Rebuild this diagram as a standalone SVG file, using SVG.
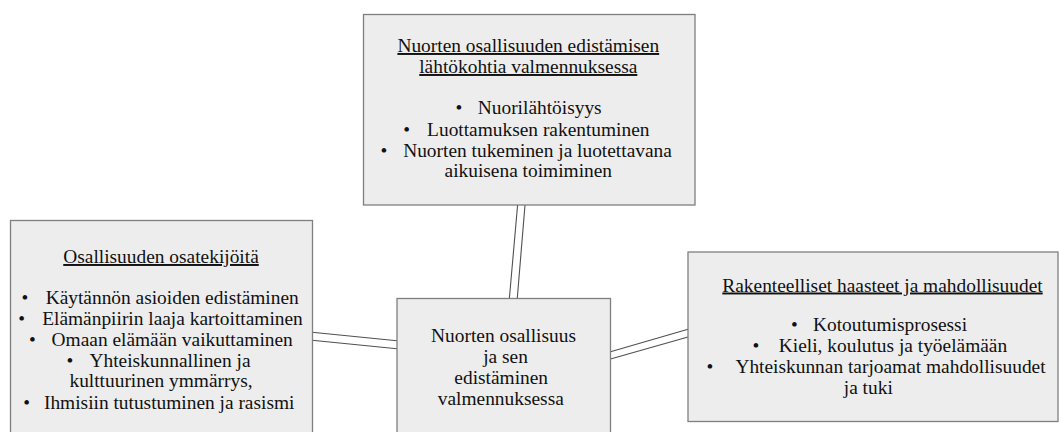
<svg xmlns="http://www.w3.org/2000/svg" width="1059" height="432" viewBox="0 0 1059 432">
<style>
.box{fill:#ededed;stroke:#7f7f7f;stroke-width:1.3}
text{font-family:'Liberation Serif','Times New Roman','DejaVu Serif',serif;font-size:19.4px;fill:#111;text-anchor:middle}
.u{text-decoration:underline}
.c{stroke:#505050;stroke-width:1.1;fill:none}
</style>
<rect width="1059" height="432" fill="#ffffff"/>
<g id="connectors">
<line class="c" x1="517.6" y1="205" x2="509.4" y2="298"/>
<line class="c" x1="525" y1="205" x2="517.3" y2="298"/>
<line class="c" x1="312" y1="332.3" x2="397" y2="340.7"/>
<line class="c" x1="312" y1="340.3" x2="397" y2="348.7"/>
<line class="c" x1="610.5" y1="351.7" x2="688" y2="329.3"/>
<line class="c" x1="610.5" y1="359" x2="688" y2="337"/>
</g>
<g id="node-top">
<rect class="box" x="363.5" y="14.5" width="331.5" height="190.5"/>
<text class="u" x="528.3" y="52">Nuorten osallisuuden edistämisen</text>
<text class="u" x="528.3" y="73">lähtökohtia valmennuksessa</text>
<text x="459" y="114">•</text>
<text x="539.7" y="114">Nuorilähtöisyys</text>
<text x="406.7" y="135.5">•</text>
<text x="538.3" y="135.5">Luottamuksen rakentuminen</text>
<text x="384" y="156.5">•</text>
<text x="537.5" y="156.5">Nuorten tukeminen ja luotettavana</text>
<text x="528.3" y="177">aikuisena toimiminen</text>
</g>
<g id="node-left">
<rect class="box" x="10.5" y="220.5" width="302" height="230"/>
<text class="u" x="161" y="263">Osallisuuden osatekijöitä</text>
<text x="25" y="304">•</text>
<text x="172.2" y="304">Käytännön asioiden edistäminen</text>
<text x="21.7" y="325">•</text>
<text x="172.5" y="325">Elämänpiirin laaja kartoittaminen</text>
<text x="32.3" y="346">•</text>
<text x="172.2" y="346">Omaan elämään vaikuttaminen</text>
<text x="70" y="366.5">•</text>
<text x="170" y="366.5">Yhteiskunnallinen ja</text>
<text x="161" y="387">kulttuurinen ymmärrys,</text>
<text x="26.7" y="409">•</text>
<text x="169.2" y="409">Ihmisiin tutustuminen ja rasismi</text>
</g>
<g id="node-center">
<rect class="box" x="397" y="298.5" width="213.5" height="150"/>
<text x="503.5" y="341.5">Nuorten osallisuus</text>
<text x="505.5" y="362.5">ja sen</text>
<text x="501.2" y="383.5">edistäminen</text>
<text x="500.8" y="404.5">valmennuksessa</text>
</g>
<g id="node-right">
<rect class="box" x="688" y="252" width="370" height="169.5"/>
<text class="u" x="882.5" y="291.5">Rakenteelliset haasteet ja mahdollisuudet</text>
<text x="794.3" y="330.5">•</text>
<text x="890" y="330.5">Kotoutumisprosessi</text>
<text x="756" y="351.5">•</text>
<text x="893" y="351.5">Kieli, koulutus ja työelämään</text>
<text x="710" y="372.5">•</text>
<text x="890.5" y="372.5">Yhteiskunnan tarjoamat mahdollisuudet</text>
<text x="868.3" y="393.5">ja tuki</text>
</g>
</svg>
